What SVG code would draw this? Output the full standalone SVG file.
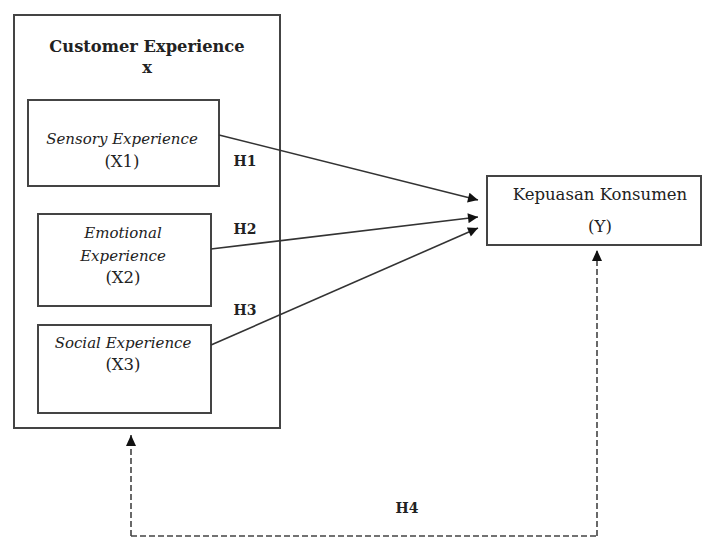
<svg xmlns="http://www.w3.org/2000/svg" width="702" height="539" viewBox="0 0 702 539">
<style>
text{font-family:"DejaVu Serif","Liberation Serif",serif;fill:#222;text-anchor:middle}
.t{font-weight:bold;font-size:16.3px}
.i{font-style:italic;font-size:15px}
.r{font-size:16.5px}
.h{font-weight:bold;font-size:14px}
.box{fill:none;stroke:#444;stroke-width:2}
.c{fill:none;stroke:#333;stroke-width:1.6}
.d{fill:none;stroke:#444;stroke-width:1.6;stroke-dasharray:6 3}
</style>
<defs>
<marker id="ah" viewBox="0 0 10 10" refX="10" refY="5" markerWidth="11" markerHeight="10" markerUnits="userSpaceOnUse" orient="auto">
<path d="M0,0 L10,5 L0,10 Z" fill="#111"/>
</marker>
</defs>
<rect width="702" height="539" fill="#fff"/>
<g id="customer-experience">
<rect class="box" x="14" y="15" width="266" height="413"/>
<text class="t" x="147" y="52">Customer Experience</text>
<text class="t" x="147" y="73">x</text>
</g>
<g id="sensory">
<rect class="box" x="28" y="100" width="191" height="86"/>
<text class="i" x="122" y="144">Sensory Experience</text>
<text class="r" x="122" y="167">(X1)</text>
</g>
<g id="emotional">
<rect class="box" x="38" y="214" width="173" height="92"/>
<text class="i" x="123" y="238">Emotional</text>
<text class="i" x="123" y="261">Experience</text>
<text class="r" x="123" y="283">(X2)</text>
</g>
<g id="social">
<rect class="box" x="38" y="325" width="173" height="88"/>
<text class="i" x="123" y="348">Social Experience</text>
<text class="r" x="123" y="370">(X3)</text>
</g>
<g id="kepuasan">
<rect class="box" x="487" y="176" width="214" height="69"/>
<text class="r" x="600" y="200">Kepuasan Konsumen</text>
<text class="r" x="600" y="232">(Y)</text>
</g>
<g id="connectors">
<line class="c" x1="219" y1="135" x2="478" y2="200" marker-end="url(#ah)"/>
<line class="c" x1="211" y1="249" x2="478" y2="217" marker-end="url(#ah)"/>
<line class="c" x1="211" y1="345" x2="478" y2="228" marker-end="url(#ah)"/>
<path class="d" d="M597,536 L597,250"/>
<path d="M597,250 L592,261 L602,261 Z" fill="#111"/>
<path class="d" d="M131,536 L131,435 M131,536 L597,536"/>
<path d="M131,435 L126,446 L136,446 Z" fill="#111"/>
<text class="h" x="245" y="166">H1</text>
<text class="h" x="245" y="234">H2</text>
<text class="h" x="245" y="315">H3</text>
<text class="h" x="407" y="513">H4</text>
</g>
</svg>
